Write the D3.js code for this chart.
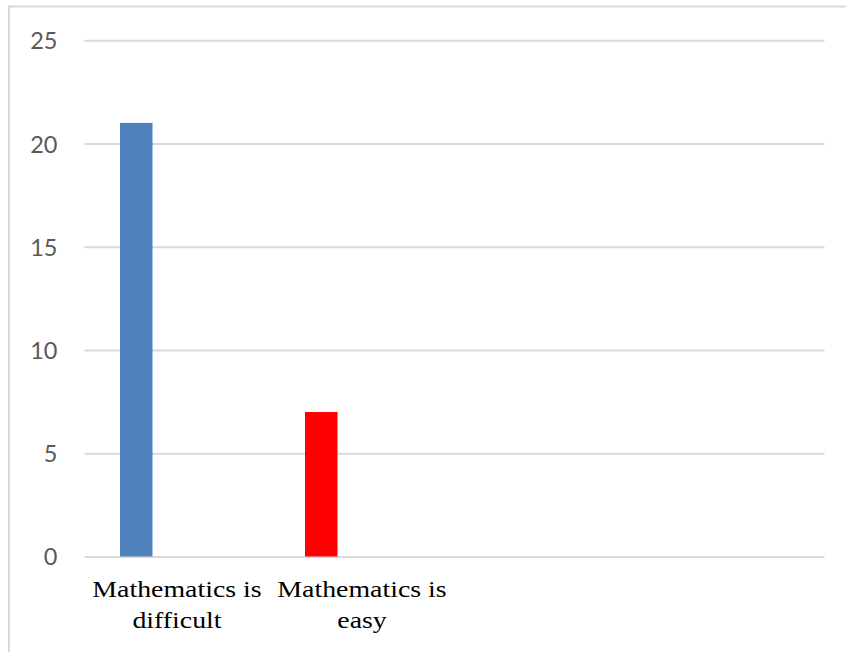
<!DOCTYPE html>
<html>
<head>
<meta charset="utf-8">
<script src="https://cdn.jsdelivr.net/npm/d3@7"></script>
<style>
  html, body { margin: 0; padding: 0; background: #ffffff; }
  svg { display: block; }
</style>
</head>
<body>
<div id="chart"></div>
<script>
// ---- data ----
const categories = ["Mathematics is difficult", "Mathematics is easy"];
const values = [21, 7];
const barColors = ["#4f81bd", "#ff0000"];
const yTicks = [0, 5, 10, 15, 20, 25];

// ---- layout ----
const W = 846, H = 652;
const plotLeft = 84.5, plotRight = 824.5;
const yTop = 40.3, yBottom = 556.5;
const slot = (plotRight - plotLeft) / 4;
const barOffset = 35.5, barWidth = 32.5;

const svg = d3.select("#chart").append("svg")
  .attr("width", W).attr("height", H);

svg.append("rect").attr("width", W).attr("height", H).attr("fill", "#ffffff");

// outer border (cropped on right and bottom)
svg.append("rect")
  .attr("x", 9).attr("y", 6.5)
  .attr("width", W + 20).attr("height", H + 20)
  .attr("fill", "none").attr("stroke", "#d9d9d9").attr("stroke-width", 2);

const y = d3.scaleLinear().domain([0, 25]).range([yBottom, yTop]);
const x = d3.scaleBand().domain(categories)
  .range([plotLeft, plotLeft + slot * categories.length])
  .paddingInner(0).paddingOuter(0);

// gridlines via axis
const gridAxis = d3.axisLeft(y).tickValues(yTicks)
  .tickSize(-(plotRight - plotLeft)).tickFormat("");
const grid = svg.append("g").attr("transform", `translate(${plotLeft},0)`).call(gridAxis);
grid.select(".domain").remove();
grid.selectAll(".tick line").attr("stroke", "#d9d9d9").attr("stroke-width", 2);

// y labels
const yAxis = d3.axisLeft(y).tickValues(yTicks).tickSize(0).tickPadding(0);
const ya = svg.append("g").attr("transform", "translate(57.5,0)").call(yAxis);
ya.select(".domain").remove();
ya.selectAll(".tick text")
  .attr("font-family", "Lato, 'Open Sans', sans-serif")
  .attr("font-size", 23.5)
  .attr("fill", "#595959")
  .attr("dy", "0.36em");

// bars
svg.append("g").selectAll("rect")
  .data(categories.map((c, i) => ({ c, v: values[i], color: barColors[i] })))
  .join("rect")
  .attr("x", d => x(d.c) + barOffset)
  .attr("width", barWidth)
  .attr("y", d => y(d.v))
  .attr("height", d => y(0) - y(d.v))
  .attr("fill", d => d.color);

// x labels (two lines, split at last space)
const labels = svg.append("g");
categories.forEach(c => {
  const k = c.lastIndexOf(" ");
  const lines = [c.slice(0, k), c.slice(k + 1)];
  const cx = x(c) + x.bandwidth() / 2;
  lines.forEach((ln, j) => {
    labels.append("text")
      .attr("transform", `translate(${cx},${597.3 + j * 31}) scale(1.16,1)`)
      .attr("text-anchor", "middle")
      .attr("font-family", "'Liberation Serif', 'Times New Roman', serif")
      .attr("font-size", 24)
      .attr("fill", "#000000")
      .text(ln);
  });
});
</script>
</body>
</html>
